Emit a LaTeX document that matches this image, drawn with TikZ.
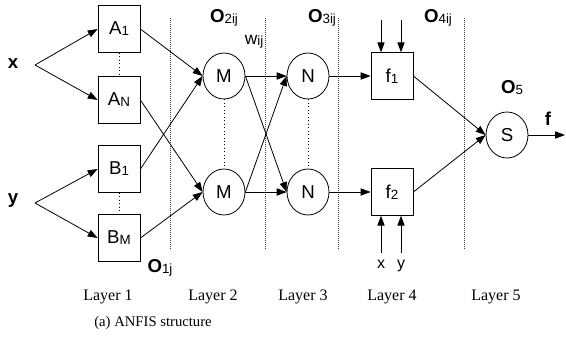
\documentclass[tikz,border=0pt]{standalone}
\usepackage{fontspec}
\setmainfont{Liberation Sans}
\newfontfamily\layerfont{Liberation Serif}
\usetikzlibrary{positioning,arrows.meta,shapes.geometric}
\newcommand{\idx}[1]{\raisebox{-0.1ex}{\fontsize{10}{11}\selectfont\mdseries #1}}

\begin{document}
\begin{tikzpicture}[
		x=0.75pt, y=-0.75pt,
		mfbox/.style={
			draw,
			line width=0.6pt,
			minimum width=31.5pt,
			minimum height=35pt,
			inner sep=0pt,
			font=\fontsize{14}{16}\selectfont
		},
		opnode/.style={
			draw,
			ellipse,
			line width=0.6pt,
			minimum width=31.5pt,
			minimum height=34.5pt,
			inner sep=0pt,
			font=\fontsize{14}{16}\selectfont
		},
		arrow/.style={-{Triangle[length=2.6mm,width=1.9mm]}, line width=0.6pt},
		link/.style={dotted, line width=0.6pt},
		separator/.style={dash pattern=on 0.6pt off 0.9pt, line width=0.5pt, black!75},
		outlabel/.style={inner sep=0pt, font=\fontsize{14}{16}\selectfont\bfseries},
		smalllabel/.style={inner sep=0pt, font=\fontsize{12}{14}\selectfont},
		layerlabel/.style={inner sep=0pt, font=\layerfont\fontsize{12}{14}\selectfont},
		captionlabel/.style={inner sep=0pt, font=\layerfont\fontsize{11}{13}\selectfont}
	]
		\useasboundingbox (0,0) rectangle (566,345);

		% layer separators
		\foreach \sx in {170,265,338,464}
			\draw[separator] (\sx,18) -- (\sx,250);

		% inputs
		\node[outlabel] (xin) at (13,64) {x};
		\node[outlabel] (yin) at (13,201) {y};
		\coordinate (xsplit) at (35,65);
		\coordinate (ysplit) at (35,203);

		% layer 1
		\node[mfbox] (A1) at (119,29) {A\idx{1}};
		\node[mfbox] (AN) at (119,100) {A\idx{N}};
		\node[mfbox] (B1) at (119,169) {B\idx{1}};
		\node[mfbox] (BM) at (119,238) {B\idx{M}};

		% layer 2 and 3
		\node[opnode] (M1) at (224,76) {M};
		\node[opnode] (M2) at (224,192) {M};
		\node[opnode] (N1) at (308,76) {N};
		\node[opnode] (N2) at (308,192) {N};

		% layer 4
		\node[mfbox] (f1) at (392,76) {f\idx{1}};
		\node[mfbox] (f2) at (392,192) {f\idx{2}};
		\coordinate (f1a) at (381,20);
		\coordinate (f1b) at (401,20);
		\coordinate (f2a) at (381,253);
		\coordinate (f2b) at (401,253);
		\node[smalllabel] (fx) at (381,264) {x};
		\node[smalllabel] (fy) at (401,266) {y};

		% layer 5
		\node[opnode] (S) at (507,135) {S};
		\coordinate (fout) at (565,135);
		\node[outlabel] (fname) at (548,119) {f};

		% outputs of the layers
		\node[outlabel] (o1) at (160,268) {O\idx{1j}};
		\node[outlabel] (o2) at (224,18) {O\idx{2ij}};
		\node[outlabel] (o3) at (322,18) {O\idx{3ij}};
		\node[outlabel] (o4) at (438,18) {O\idx{4ij}};
		\node[outlabel] (o5) at (512,88) {O\idx{5}};
		\node[inner sep=0pt, font=\fontsize{13}{15}\selectfont] (w) at (254,42) {w\idx{ij}};

		% layer names
		\foreach \lx/\ln in {108/1,213/2,303/3,392/4,496/5}
			\node[layerlabel] (layer\ln) at (\lx,297) {Layer \ln};
		\node[captionlabel] (caption) at (153,323) {(a) ANFIS structure};

		\draw[arrow] (xsplit) -- (A1.west);
		\draw[arrow] (xsplit) -- (AN.west);
		\draw[arrow] (ysplit) -- (B1.west);
		\draw[arrow] (ysplit) -- (BM.west);
		\draw[link] (A1) -- (AN);
		\draw[link] (B1) -- (BM);

		\draw[arrow] (A1.east) -- (M1.west);
		\draw[arrow] (B1.east) -- (M1.west);
		\draw[arrow] (AN.east) -- (M2.west);
		\draw[arrow] (BM.east) -- (M2.west);
		\draw[link] (M1) -- (M2);

		\draw[arrow] (M1.east) -- (N1.west);
		\draw[arrow] (M1.east) -- (N2.west);
		\draw[arrow] (M2.east) -- (N1.west);
		\draw[arrow] (M2.east) -- (N2.west);
		\draw[link] (N1) -- (N2);

		\draw[arrow] (N1) -- (f1);
		\draw[arrow] (N2) -- (f2);
		\draw[arrow] (f1a) -- (f1a |- f1.north);
		\draw[arrow] (f1b) -- (f1b |- f1.north);
		\draw[arrow] (f2a) -- (f2a |- f2.south);
		\draw[arrow] (f2b) -- (f2b |- f2.south);

		\draw[arrow] (f1.east) -- (S.west);
		\draw[arrow] (f2.east) -- (S.west);
		\draw[arrow] (S) -- (fout);
	\end{tikzpicture}
\end{document}
